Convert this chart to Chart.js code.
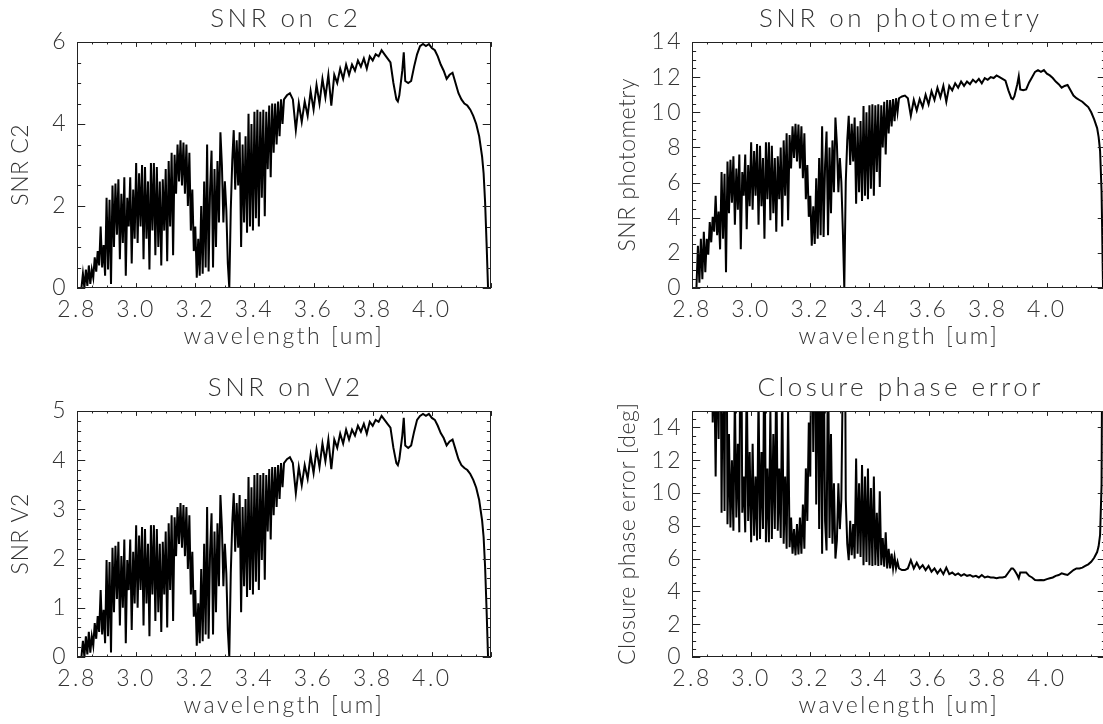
<!DOCTYPE html>
<html>
<head>
<meta charset="utf-8">
<script src="https://cdn.jsdelivr.net/npm/chart.js@4.4.0/dist/chart.umd.min.js"></script>
<style>
  html, body { margin: 0; padding: 0; background: #fff; }
  body { position: relative; width: 1103px; height: 724px; overflow: hidden; }
  canvas { position: absolute; }
</style>
</head>
<body>
<canvas id="c2Chart" width="551" height="362" style="left:0;top:0"></canvas>
<canvas id="photChart" width="560" height="362" style="left:551px;top:0"></canvas>
<canvas id="v2Chart" width="551" height="362" style="left:0;top:369px"></canvas>
<canvas id="cpChart" width="560" height="362" style="left:551px;top:369px"></canvas>
<script>
const wavelength = [
  2.815, 2.82, 2.825, 2.83, 2.835, 2.84, 2.845, 2.85, 2.855, 2.86, 2.865, 2.87, 2.875, 2.88, 2.885, 2.89, 2.895, 2.9, 2.905, 2.91, 2.915, 2.92, 2.925, 2.93, 2.935, 2.94, 2.945, 2.95, 2.955, 2.96, 2.965, 2.97, 2.975, 2.98, 2.985, 2.99, 2.995,
  3.0, 3.005, 3.01, 3.015, 3.02, 3.025, 3.03, 3.035, 3.04, 3.045, 3.05, 3.055, 3.06, 3.065, 3.07, 3.075, 3.08, 3.085, 3.09, 3.095, 3.1, 3.105, 3.11, 3.115, 3.12, 3.125, 3.13, 3.135, 3.14, 3.145, 3.15, 3.155, 3.16, 3.165, 3.17, 3.175, 3.18, 3.185, 3.19, 3.195,
  3.2, 3.205, 3.21, 3.215, 3.22, 3.225, 3.23, 3.235, 3.24, 3.245, 3.25, 3.255, 3.26, 3.265, 3.27, 3.275, 3.28, 3.285, 3.29, 3.295,
  3.3, 3.305, 3.31, 3.315, 3.32, 3.325, 3.33, 3.335, 3.34, 3.345, 3.35, 3.355, 3.36, 3.365, 3.37, 3.375, 3.38, 3.385, 3.39, 3.395,
  3.4, 3.405, 3.41, 3.415, 3.42, 3.425, 3.43, 3.435, 3.44, 3.445, 3.45, 3.455, 3.46, 3.465, 3.47, 3.475, 3.48, 3.485, 3.49, 3.495, 3.5,
  3.51, 3.52, 3.53, 3.54, 3.55, 3.56, 3.57, 3.58, 3.59, 3.6, 3.61, 3.62, 3.63, 3.64, 3.65, 3.66, 3.67, 3.68, 3.69, 3.7, 3.71, 3.72, 3.73, 3.74, 3.75, 3.76, 3.77, 3.78, 3.79, 3.8, 3.81, 3.82, 3.83, 3.84, 3.85, 3.86, 3.87, 3.88,
  3.885, 3.89, 3.9, 3.905, 3.91,
  3.92, 3.93, 3.94, 3.95, 3.96, 3.97, 3.98, 3.99, 4.0, 4.01, 4.02, 4.03, 4.04, 4.05, 4.06, 4.07, 4.08, 4.09, 4.1, 4.11, 4.12, 4.13, 4.14, 4.15, 4.16, 4.17,
  4.175, 4.18, 4.185, 4.19
];

const snrC2 = [
  0, 0.35, 0, 0.45, 0.05, 0.55, 0.1, 0.45, 0.25, 0.75, 0.4, 0.9, 0.55, 1.5, 0.5, 1.05, 0.3, 2.2, 0.45, 2.15, 0.1, 2.5, 1.0, 2.55, 1.3, 2.65, 0.7, 2.3, 1.1, 2.7, 0.3, 2.2, 1.5, 2.7, 0.6, 2.4, 1.2,
  3.05, 1.1, 2.8, 1.5, 3.0, 0.7, 2.95, 1.2, 2.6, 0.45, 3.05, 1.4, 3.05, 0.8, 2.95, 1.0, 2.6, 0.55, 2.65, 1.4, 2.9, 0.65, 3.1, 1.5, 3.3, 0.8, 3.25, 2.3, 3.5, 2.6, 3.6, 2.5, 3.55, 2.3, 3.5, 2.0, 3.3, 1.4, 2.4, 0.9,
  1.5, 0.25, 1.2, 0.3, 2.0, 0.35, 2.6, 0.5, 3.5, 0.4, 2.4, 3.35, 0.5, 2.9, 1.0, 3.1, 1.6, 3.8, 3.0, 1.6,
  2.6, 1.9, 0.6, 0, 1.9, 3.1, 3.85, 2.4, 3.6, 2.5, 3.8, 1.0, 3.5, 1.6, 3.7, 1.35, 4.25, 1.5, 4.0, 1.4,
  4.3, 1.7, 4.35, 1.5, 4.3, 2.2, 4.35, 1.75, 4.3, 2.9, 4.45, 2.7, 4.5, 3.3, 4.5, 3.5, 4.55, 3.7, 4.6, 4.0, 4.6,
  4.7, 4.75, 4.6, 3.85, 4.5, 4.05, 4.55, 4.2, 4.8, 4.35, 4.95, 4.5, 5.1, 4.65, 5.2, 4.45, 5.2, 5.0, 5.35, 5.1, 5.45, 5.2, 5.45, 5.3, 5.55, 5.4, 5.6, 5.35, 5.65, 5.55, 5.7, 5.65, 5.8, 5.7, 5.6, 5.5, 5.0, 4.6,
  4.55, 4.7, 5.3, 5.75, 5.05,
  5.0, 5.05, 5.4, 5.7, 5.9, 5.95, 5.9, 5.95, 5.85, 5.8, 5.65, 5.45, 5.3, 5.1, 5.2, 5.25, 5.0, 4.75, 4.6, 4.5, 4.45, 4.35, 4.2, 4.0, 3.7, 3.2,
  2.8, 2.1, 1.1, 0
];

const snrPhotometry = [
  0, 2.4, 0.3, 2.8, 0.5, 3.2, 0.9, 2.8, 1.9, 3.75, 2.6, 4.05, 3.2, 5.25, 3.0, 4.35, 2.2, 6.6, 2.8, 6.5, 0.9, 7.2, 4.25, 7.3, 4.85, 7.5, 3.6, 6.8, 4.45, 7.6, 2.2, 6.6, 5.25, 7.6, 3.35, 7.0, 4.65,
  8.3, 4.45, 7.8, 5.25, 8.2, 3.6, 8.1, 4.65, 7.4, 2.8, 8.3, 5.05, 8.3, 3.85, 8.1, 4.25, 7.4, 3.2, 7.5, 5.05, 8.0, 3.5, 8.4, 5.25, 8.8, 3.85, 8.7, 6.8, 9.2, 7.4, 9.35, 7.2, 9.3, 6.8, 9.2, 6.25, 8.8, 5.05, 7.0, 4.05,
  5.25, 2.4, 4.65, 2.5, 6.25, 2.8, 7.4, 3.0, 9.2, 2.9, 7.0, 8.9, 3.0, 8.0, 4.25, 8.4, 5.45, 9.7, 8.2, 5.45,
  7.4, 6.05, 3.35, 0, 6.05, 8.4, 9.8, 7.0, 9.35, 7.2, 9.7, 4.8, 9.2, 5.45, 9.5, 4.95, 10.35, 5.25, 10.0, 5.05,
  10.4, 5.65, 10.45, 5.25, 10.4, 6.6, 10.45, 5.75, 10.4, 8.0, 10.6, 7.6, 10.7, 8.8, 10.7, 9.2, 10.75, 9.5, 10.8, 10.0, 10.8,
  10.9, 10.95, 10.8, 9.8, 10.7, 10.1, 10.75, 10.3, 11.0, 10.45, 11.2, 10.7, 11.4, 10.85, 11.5, 10.6, 11.5, 11.25, 11.65, 11.4, 11.75, 11.5, 11.75, 11.6, 11.85, 11.7, 11.9, 11.65, 11.95, 11.85, 12.0, 11.95, 12.1, 12.0, 11.9, 11.8, 11.25, 10.8,
  10.75, 10.9, 11.6, 12.05, 11.3,
  11.25, 11.3, 11.7, 12.0, 12.3, 12.4, 12.3, 12.4, 12.2, 12.1, 11.95, 11.75, 11.6, 11.4, 11.5, 11.55, 11.25, 10.95, 10.8, 10.7, 10.6, 10.45, 10.3, 10.0, 9.6, 9.1,
  8.6, 7.8, 5.5, 0
];

const snrV2 = [
  0, 0.33, 0, 0.42, 0.05, 0.51, 0.09, 0.42, 0.23, 0.69, 0.37, 0.83, 0.51, 1.36, 0.46, 0.96, 0.28, 1.97, 0.42, 1.93, 0.09, 2.22, 0.91, 2.26, 1.18, 2.34, 0.64, 2.05, 1.0, 2.39, 0.28, 1.97, 1.36, 2.39, 0.55, 2.14, 1.09,
  2.68, 1.0, 2.47, 1.36, 2.64, 0.64, 2.6, 1.09, 2.3, 0.42, 2.68, 1.27, 2.68, 0.73, 2.6, 0.91, 2.3, 0.51, 2.34, 1.27, 2.55, 0.6, 2.72, 1.36, 2.88, 0.73, 2.84, 2.05, 3.05, 2.3, 3.13, 2.22, 3.09, 2.05, 3.05, 1.79, 2.88, 1.27, 2.14, 0.82,
  1.36, 0.23, 1.09, 0.28, 1.79, 0.32, 2.3, 0.46, 3.05, 0.37, 2.14, 2.92, 0.46, 2.55, 0.91, 2.72, 1.44, 3.29, 2.64, 1.44,
  2.3, 1.7, 0.55, 0, 1.7, 2.72, 3.33, 2.14, 3.13, 2.22, 3.29, 0.91, 3.05, 1.44, 3.21, 1.22, 3.66, 1.36, 3.45, 1.27,
  3.7, 1.53, 3.74, 1.36, 3.7, 1.97, 3.74, 1.57, 3.7, 2.55, 3.82, 2.39, 3.86, 2.88, 3.86, 3.05, 3.9, 3.21, 3.94, 3.45, 3.94,
  4.02, 4.06, 3.94, 3.33, 3.86, 3.49, 3.9, 3.62, 4.1, 3.74, 4.22, 3.86, 4.34, 3.98, 4.42, 3.82, 4.42, 4.25, 4.54, 4.34, 4.62, 4.42, 4.62, 4.5, 4.7, 4.58, 4.74, 4.54, 4.78, 4.7, 4.82, 4.78, 4.9, 4.82, 4.74, 4.66, 4.25, 3.94,
  3.9, 4.02, 4.5, 4.86, 4.3,
  4.25, 4.3, 4.58, 4.82, 4.9, 4.94, 4.9, 4.94, 4.86, 4.82, 4.7, 4.55, 4.45, 4.3, 4.38, 4.42, 4.22, 4.02, 3.9, 3.84, 3.8, 3.72, 3.6, 3.44, 3.19, 2.77,
  2.44, 1.84, 0.97, 0
];

const closurePhaseError = [
  30, 24.2, 30, 20.7, 30, 18.1, 30, 20.7, 30, 15.5, 22.3, 14.3, 18.1, 11.0, 19.3, 13.3, 26.4, 8.8, 20.7, 8.9, 30, 8.1, 13.6, 7.9, 12.0, 7.7, 16.1, 8.5, 13.0, 7.6, 26.4, 8.8, 11.0, 7.6, 17.3, 8.3, 12.5,
  7.0, 13.0, 7.4, 11.0, 7.1, 16.1, 7.2, 12.5, 7.8, 20.7, 7.0, 11.5, 7.0, 15.1, 7.2, 13.6, 7.8, 18.1, 7.7, 11.5, 7.25, 16.6, 6.9, 11.0, 6.6, 15.1, 6.7, 8.5, 6.3, 7.8, 6.2, 8.1, 6.25, 8.5, 6.3, 9.3, 6.6, 11.5, 8.3, 14.3,
  11.0, 24.2, 12.5, 23.2, 9.3, 20.7, 7.8, 19.3, 6.3, 20.0, 8.3, 6.5, 19.3, 7.25, 13.6, 6.9, 10.6, 6.0, 7.1, 10.6,
  7.8, 9.6, 17.3, 30, 9.6, 6.9, 5.9, 8.3, 6.2, 8.1, 6.0, 12.1, 6.3, 10.6, 6.1, 11.7, 5.6, 11.0, 5.8, 11.5,
  5.6, 10.3, 5.55, 11.0, 5.6, 8.8, 5.55, 10.1, 5.6, 7.25, 5.5, 7.6, 5.4, 6.6, 5.4, 6.3, 5.4, 6.1, 5.4, 5.8, 5.4,
  5.3, 5.3, 5.4, 5.9, 5.4, 5.75, 5.4, 5.6, 5.3, 5.55, 5.2, 5.4, 5.1, 5.35, 5.05, 5.45, 5.05, 5.15, 5.0, 5.1, 4.95, 5.05, 4.95, 5.0, 4.9, 4.95, 4.85, 5.0, 4.85, 4.9, 4.85, 4.85, 4.8, 4.85, 4.85, 4.9, 5.15, 5.4,
  5.4, 5.3, 5.0, 4.8, 5.15,
  5.15, 5.15, 4.95, 4.85, 4.7, 4.68, 4.7, 4.68, 4.75, 4.8, 4.85, 4.95, 5.0, 5.1, 5.05, 5.0, 5.15, 5.3, 5.4, 5.4, 5.45, 5.55, 5.65, 5.8, 6.05, 6.4,
  6.75, 7.45, 10.5, 30
];

const xTickValues = [2.8, 3.0, 3.2, 3.4, 3.6, 3.8, 4.0];
const yTicksC2 = [0, 2, 4, 6];
const yTicksPhotometry = [0, 2, 4, 6, 8, 10, 12, 14];
const yTicksV2 = [0, 1, 2, 3, 4, 5];
const yTicksClosure = [0, 2, 4, 6, 8, 10, 12, 14];

const FONT_FAMILY = 'Lato, "DejaVu Sans", sans-serif';
const TEXT_COLOR = '#333';
const LABEL_SPACING = 2.5;
const TITLE_SPACING = 3.5;
const YTITLE_SPACING = 0.5;

// IDL style box: frame plus inward ticks on all four sides, panel title and y title
const idlFrame = {
  id: 'idlFrame',
  beforeDraw(chart) {
    chart.ctx.letterSpacing = LABEL_SPACING + 'px';
  },
  afterDatasetsDraw(chart, args, opts) {
    const { ctx, chartArea: area, scales: { x, y } } = chart;
    ctx.save();
    ctx.strokeStyle = '#222';
    ctx.lineWidth = 1;
    ctx.strokeRect(area.left + 0.5, area.top + 0.5, area.width - 1, area.height - 1);
    ctx.beginPath();
    const xLen = area.height * 0.02;
    const yLen = area.width * 0.02;
    const walk = (scale, minor, major, fn) => {
      const n = Math.round((scale.max - scale.min) / minor);
      for (let i = 0; i <= n; i++) {
        const v = scale.min + i * minor;
        const isMajor = Math.abs(v / major - Math.round(v / major)) < 1e-6;
        fn(Math.round(scale.getPixelForValue(v)) + 0.5, isMajor);
      }
    };
    walk(x, opts.xMinor, opts.xMajor, (px, major) => {
      const len = major ? xLen : xLen / 2;
      ctx.moveTo(px, area.bottom); ctx.lineTo(px, area.bottom - len);
      ctx.moveTo(px, area.top); ctx.lineTo(px, area.top + len);
    });
    walk(y, opts.yMinor, opts.yMajor, (py, major) => {
      const len = major ? yLen : yLen / 2;
      ctx.moveTo(area.left, py); ctx.lineTo(area.left + len, py);
      ctx.moveTo(area.right, py); ctx.lineTo(area.right - len, py);
    });
    ctx.stroke();
    ctx.restore();
  },
  afterDraw(chart, args, opts) {
    const { ctx, chartArea: area } = chart;
    ctx.save();
    ctx.fillStyle = TEXT_COLOR;
    ctx.textAlign = 'center';
    ctx.textBaseline = 'middle';

    ctx.letterSpacing = TITLE_SPACING + 'px';
    ctx.font = '300 26px ' + FONT_FAMILY;
    ctx.fillText(opts.title, (area.left + area.right) / 2 + TITLE_SPACING / 2, 19);

    ctx.letterSpacing = YTITLE_SPACING + 'px';
    ctx.font = '300 23px ' + FONT_FAMILY;
    ctx.translate(opts.yTitleX, (area.top + area.bottom) / 2);
    ctx.rotate(-Math.PI / 2);
    ctx.fillText(opts.yTitle, YTITLE_SPACING / 2, 0);
    ctx.restore();
  }
};

const labelFont = { family: FONT_FAMILY, size: 23, weight: 300 };

const makeChart = (canvasId, title, yTitle, values, yMax, yTicks, yMajor, yMinor, yAxisWidth, yTitleX, rightPad) => {
  const ctx = document.getElementById(canvasId).getContext('2d');
  const points = wavelength.map((w, i) => ({ x: w, y: values[i] }));

  return new Chart(ctx, {
    type: 'line',
    data: {
      datasets: [{
        data: points,
        borderColor: '#000',
        borderWidth: 2,
        pointRadius: 0,
        tension: 0,
        fill: false
      }]
    },
    options: {
      responsive: false,
      animation: false,
      devicePixelRatio: 1,
      layout: { padding: { left: 0, top: 42, right: rightPad, bottom: 0 } },
      plugins: {
        legend: { display: false },
        tooltip: { enabled: false },
        idlFrame: { title, yTitle, yTitleX, xMajor: 0.2, xMinor: 0.05, yMajor, yMinor }
      },
      scales: {
        x: {
          type: 'linear',
          min: 2.8,
          max: 4.2,
          afterBuildTicks: (scale) => { scale.ticks = xTickValues.map(v => ({ value: v })); },
          afterFit: (scale) => { scale.height = 74; },
          grid: { display: false, drawTicks: false },
          border: { display: false },
          ticks: {
            color: TEXT_COLOR, font: labelFont, padding: 8,
            autoSkip: false, maxRotation: 0,
            callback: (v) => Number(v).toFixed(1)
          },
          title: {
            display: true, text: 'wavelength [um]', color: TEXT_COLOR, font: labelFont,
            padding: { top: 0, bottom: 12 }
          }
        },
        y: {
          type: 'linear',
          min: 0,
          max: yMax,
          afterBuildTicks: (scale) => { scale.ticks = yTicks.map(v => ({ value: v })); },
          afterFit: (scale) => { scale.width = yAxisWidth; },
          grid: { display: false, drawTicks: false },
          border: { display: false },
          ticks: {
            color: TEXT_COLOR, font: labelFont, padding: 9,
            callback: (v) => String(v)
          },
          title: { display: false }
        }
      }
    },
    plugins: [idlFrame]
  });
};

makeChart('c2Chart', 'SNR on c2', 'SNR C2', snrC2, 6, yTicksC2, 2, 0.5, 77, 21, 60);
makeChart('photChart', 'SNR on photometry', 'SNR photometry', snrPhotometry, 14, yTicksPhotometry, 2, 0.5, 141, 77, 5);
makeChart('v2Chart', 'SNR on V2', 'SNR V2', snrV2, 5, yTicksV2, 1, 0.2, 77, 21, 60);
makeChart('cpChart', 'Closure phase error', 'Closure phase error [deg]', closurePhaseError, 15, yTicksClosure, 2, 0.5, 141, 77, 5);
</script>
</body>
</html>
